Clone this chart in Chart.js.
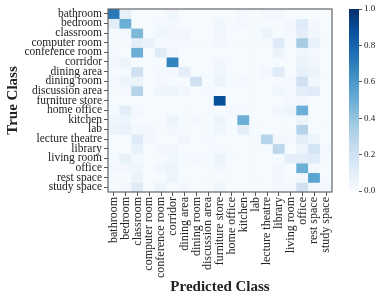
<!DOCTYPE html>
<html>
<head>
<meta charset="utf-8">
<script src="https://cdn.jsdelivr.net/npm/chart.js@4.4.0/dist/chart.umd.min.js"></script>
<style>
  html, body { margin: 0; padding: 0; background: #fff; }
  #wrap { position: relative; width: 381px; height: 301px; }
  #cm { position: absolute; left: 0; top: 0; }
  #cb { position: absolute; left: 340px; top: 0; }
</style>
</head>
<body>
<div id="wrap">
  <canvas id="cm" width="381" height="301"></canvas>
  <canvas id="cb" width="41" height="301"></canvas>
</div>
<script>
const classes = ['bathroom', 'bedroom', 'classroom', 'computer room', 'conference room', 'corridor',
  'dining area', 'dining room', 'discussion area', 'furniture store', 'home office', 'kitchen', 'lab',
  'lecture theatre', 'library', 'living room', 'office', 'rest space', 'study space'];

// rows = true class, columns = predicted class (row-normalised)
const confusion = [
  [0.72, 0.08, 0.01, 0.01, 0.01, 0.04, 0.01, 0.01, 0.01, 0.01, 0.01, 0.02, 0.01, 0.02, 0.02, 0.01, 0.01, 0.01, 0.01],
  [0.10, 0.50, 0.01, 0.01, 0.02, 0.02, 0.01, 0.01, 0.01, 0.04, 0.01, 0.02, 0.01, 0.01, 0.01, 0.03, 0.12, 0.02, 0.01],
  [0.01, 0.02, 0.45, 0.01, 0.04, 0.03, 0.03, 0.01, 0.01, 0.03, 0.01, 0.01, 0.01, 0.05, 0.01, 0.02, 0.10, 0.03, 0.01],
  [0.01, 0.01, 0.10, 0.07, 0.01, 0.02, 0.02, 0.01, 0.01, 0.03, 0.01, 0.01, 0.01, 0.01, 0.12, 0.01, 0.35, 0.08, 0.01],
  [0.02, 0.01, 0.50, 0.01, 0.12, 0.03, 0.01, 0.01, 0.01, 0.01, 0.01, 0.01, 0.01, 0.01, 0.06, 0.01, 0.04, 0.02, 0.01],
  [0.03, 0.05, 0.01, 0.01, 0.01, 0.68, 0.01, 0.01, 0.01, 0.03, 0.01, 0.01, 0.01, 0.01, 0.01, 0.01, 0.06, 0.03, 0.01],
  [0.01, 0.01, 0.20, 0.01, 0.02, 0.02, 0.10, 0.01, 0.01, 0.04, 0.01, 0.01, 0.01, 0.03, 0.12, 0.01, 0.08, 0.06, 0.01],
  [0.02, 0.05, 0.06, 0.01, 0.02, 0.01, 0.01, 0.20, 0.01, 0.06, 0.01, 0.02, 0.01, 0.01, 0.01, 0.02, 0.20, 0.03, 0.01],
  [0.01, 0.02, 0.30, 0.01, 0.04, 0.05, 0.03, 0.01, 0.02, 0.01, 0.01, 0.01, 0.01, 0.01, 0.04, 0.02, 0.10, 0.12, 0.01],
  [0.01, 0.01, 0.01, 0.01, 0.01, 0.01, 0.01, 0.01, 0.01, 0.88, 0.01, 0.01, 0.01, 0.01, 0.01, 0.02, 0.03, 0.01, 0.01],
  [0.01, 0.10, 0.02, 0.01, 0.01, 0.01, 0.01, 0.01, 0.01, 0.01, 0.02, 0.02, 0.01, 0.01, 0.03, 0.05, 0.50, 0.01, 0.01],
  [0.04, 0.05, 0.01, 0.01, 0.01, 0.05, 0.01, 0.02, 0.01, 0.05, 0.01, 0.50, 0.01, 0.01, 0.01, 0.01, 0.06, 0.01, 0.01],
  [0.06, 0.07, 0.02, 0.03, 0.01, 0.03, 0.01, 0.01, 0.01, 0.04, 0.01, 0.10, 0.01, 0.01, 0.01, 0.01, 0.30, 0.01, 0.01],
  [0.01, 0.01, 0.12, 0.03, 0.01, 0.01, 0.03, 0.01, 0.02, 0.01, 0.01, 0.01, 0.01, 0.30, 0.03, 0.02, 0.10, 0.05, 0.01],
  [0.01, 0.01, 0.08, 0.01, 0.03, 0.03, 0.01, 0.01, 0.01, 0.02, 0.01, 0.01, 0.01, 0.01, 0.28, 0.01, 0.05, 0.18, 0.02],
  [0.01, 0.08, 0.02, 0.01, 0.01, 0.04, 0.01, 0.02, 0.01, 0.06, 0.01, 0.01, 0.01, 0.01, 0.01, 0.10, 0.10, 0.12, 0.01],
  [0.02, 0.03, 0.04, 0.01, 0.03, 0.05, 0.01, 0.01, 0.01, 0.03, 0.01, 0.01, 0.01, 0.01, 0.02, 0.01, 0.50, 0.02, 0.01],
  [0.01, 0.01, 0.06, 0.01, 0.01, 0.05, 0.01, 0.01, 0.01, 0.01, 0.01, 0.01, 0.01, 0.01, 0.03, 0.01, 0.04, 0.55, 0.01],
  [0.01, 0.03, 0.12, 0.01, 0.05, 0.01, 0.03, 0.01, 0.01, 0.04, 0.01, 0.01, 0.01, 0.01, 0.03, 0.02, 0.20, 0.03, 0.02]
];

const colorbarTicks = [0, 0.2, 0.4, 0.6, 0.8, 1.0];

// matplotlib "Blues"
const blues = [[247,251,255],[222,235,247],[198,219,239],[158,202,225],[107,174,214],
  [66,146,198],[33,113,181],[8,81,156],[8,48,107]];

function bluesColor(v) {
  v = Math.max(0, Math.min(1, v));
  const p = v * (blues.length - 1);
  const i = Math.min(Math.floor(p), blues.length - 2);
  const t = p - i;
  const c = blues[i].map((a, k) => Math.round(a + (blues[i + 1][k] - a) * t));
  return `rgb(${c[0]},${c[1]},${c[2]})`;
}

const serif = "'Liberation Serif', 'DejaVu Serif', serif";
Chart.defaults.font.family = serif;
Chart.defaults.color = '#222';

const frame = {
  id: 'frame',
  afterDraw(chart) {
    const a = chart.chartArea, c = chart.ctx;
    c.save();
    c.strokeStyle = '#666';
    c.lineWidth = 1.2;
    c.strokeRect(a.left, a.top, a.right - a.left, a.bottom - a.top);
    c.restore();
  }
};

new Chart(document.getElementById('cm'), {
  type: 'bar',
  data: {
    labels: classes,
    datasets: confusion.map((row, r) => ({
      data: row.map(() => [r, r + 1]),
      backgroundColor: row.map(bluesColor),
      borderWidth: 0,
      barPercentage: 1.0,
      categoryPercentage: 1.0,
      grouped: false
    }))
  },
  options: {
    responsive: false,
    animation: false,
    layout: { padding: { left: 0, top: 9, right: 49, bottom: 0 } },
    plugins: { legend: { display: false }, tooltip: { enabled: false } },
    scales: {
      x: {
        offset: true,
        grid: { offset: false, drawOnChartArea: false, tickLength: 4, color: '#555' },
        border: { display: false },
        ticks: { minRotation: 90, maxRotation: 90, autoSkip: false, padding: 1,
          font: { size: 12 }, color: '#222' },
        title: { display: true, text: 'Predicted Class', font: { size: 15, weight: 'bold' },
          color: '#222', padding: { top: 0, bottom: 5 } },
        afterFit: s => { s.height = 109; }
      },
      y: {
        min: 0, max: 19, reverse: true,
        grid: { drawOnChartArea: false, tickLength: 4, color: '#555' },
        border: { display: false },
        afterBuildTicks: s => { s.ticks = classes.map((_, i) => ({ value: i + 0.5 })); },
        ticks: { autoSkip: false, padding: 2, font: { size: 11.5 }, color: '#222',
          callback: v => classes[Math.floor(v)] },
        title: { display: true, text: 'True Class', font: { size: 15, weight: 'bold' },
          color: '#222', padding: { top: 4, bottom: 0 } },
        afterFit: s => { s.width = 108; }
      }
    }
  },
  plugins: [frame]
});

new Chart(document.getElementById('cb'), {
  type: 'bar',
  data: {
    labels: ['scale'],
    datasets: [{
      data: [[0, 1]],
      borderWidth: 0,
      barPercentage: 1.0,
      categoryPercentage: 1.0,
      backgroundColor: ctx => {
        const a = ctx.chart.chartArea;
        if (!a) return '#fff';
        const g = ctx.chart.ctx.createLinearGradient(0, a.bottom, 0, a.top);
        blues.forEach((_, i) => g.addColorStop(i / (blues.length - 1), bluesColor(i / (blues.length - 1))));
        return g;
      }
    }]
  },
  options: {
    responsive: false,
    animation: false,
    layout: { padding: { left: 9, top: 9, right: 0, bottom: 110 } },
    plugins: { legend: { display: false }, tooltip: { enabled: false } },
    scales: {
      x: { display: false },
      y: {
        position: 'right', min: 0, max: 1,
        grid: { drawOnChartArea: false, tickLength: 3, color: '#555' },
        border: { display: false },
        afterBuildTicks: s => { s.ticks = colorbarTicks.map(v => ({ value: v })); },
        ticks: { padding: 2, font: { size: 9 }, color: '#222', callback: v => v.toFixed(1) },
        afterFit: s => { s.width = 22; }
      }
    }
  }
});
</script>
</body>
</html>
